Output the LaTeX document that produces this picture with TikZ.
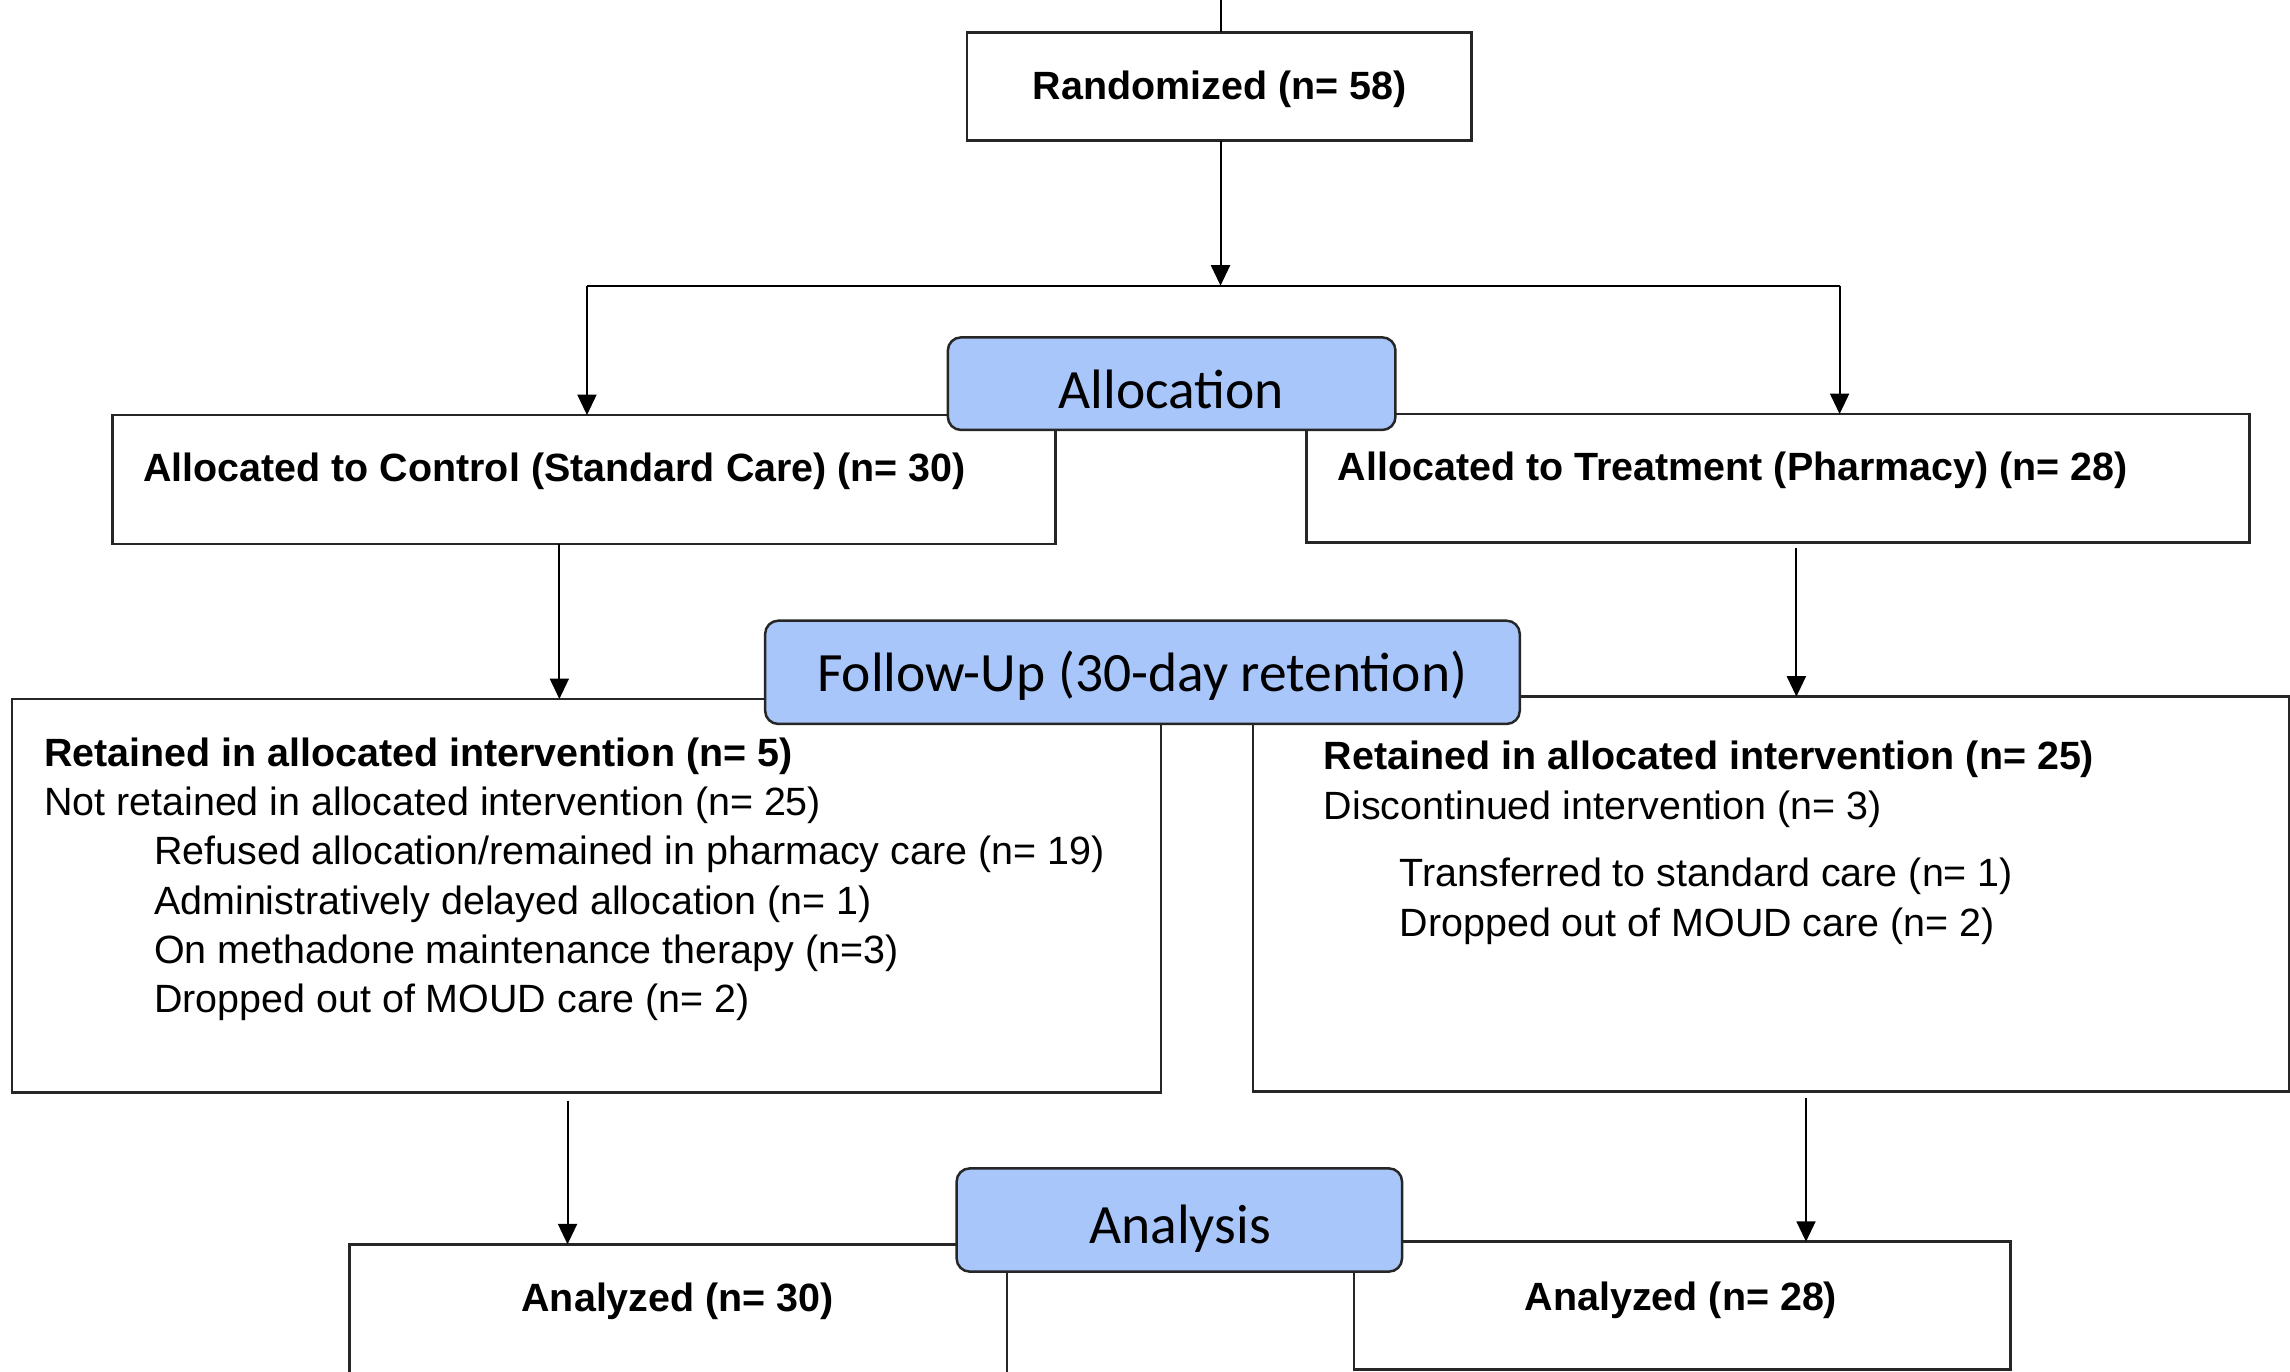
\documentclass[tikz,border=0pt]{standalone}
\usepackage{fontspec}
\setmainfont{Liberation Sans}
\newfontfamily\hdrfont{Carlito}
\usetikzlibrary{arrows.meta}
\definecolor{hdrblue}{RGB}{168,198,250}
\begin{document}
\begin{tikzpicture}[x=1pt,y=-1pt,
  box/.style={draw=black!85, line width=1.7pt, fill=white, anchor=north west, inner sep=0pt, outer sep=0pt},
  hdr/.style={draw=black!85, line width=1.7pt, fill=hdrblue, rounded corners=9pt, anchor=north west, inner sep=0pt, outer sep=0pt},
  conn/.style={line width=1.4pt, draw=black},
  arr/.style={conn, -{Triangle[width=13pt,length=14pt]}},
  txt/.style={inner sep=0pt, anchor=base west, font=\fontsize{27}{32}\selectfont},
  btxt/.style={txt, font=\fontsize{27}{32}\selectfont\bfseries},
  htxt/.style={inner sep=0pt, anchor=base, font=\hdrfont\fontsize{38}{44}\selectfont}]
\useasboundingbox (0,0) rectangle (1568,939);
\clip (0,0) rectangle (1568,939);

% boxes
\node[box, minimum width=345.5pt, minimum height=74.2pt] (rand) at (662,22.1) {};
\node[box, minimum width=645.6pt, minimum height=88.3pt] (ctrl) at (77,284.2) {};
\node[box, minimum width=645.9pt, minimum height=88.1pt] (trt) at (894.5,283.5) {};
\node[box, minimum width=786.8pt, minimum height=269.4pt] (fuL) at (8.2,478.6) {};
\node[box, minimum width=709.5pt, minimum height=270.5pt] (fuR) at (858,477) {};
\node[box, minimum width=450.3pt, minimum height=110pt] (anL) at (239.2,852) {};
\node[box, minimum width=449.6pt, minimum height=87.4pt] (anR) at (927,850.2) {};

% headers
\node[hdr, minimum width=306.5pt, minimum height=63.4pt] (hAlloc) at (649,231) {};
\node[hdr, minimum width=516.7pt, minimum height=70.7pt] (hFU) at (523.9,425) {};
\node[hdr, minimum width=305pt, minimum height=70.7pt] (hAn) at (655,800) {};

% connectors
\coordinate (top) at (835.7,0);
\coordinate (split) at (835.7,195.6);
\coordinate (jl) at (401.9,195.6);
\coordinate (jr) at (1259.6,195.6);
\coordinate (c1) at (383,372.5);
\coordinate (c2) at (1230,375);
\coordinate (c3) at (388.6,753.6);
\coordinate (c4) at (1236.6,752);
\draw[conn] (top) -- (top |- rand.north);
\draw[arr] (split |- rand.south) -- (split);
\draw[conn] (jl) -- (jr);
\draw[arr] (jl) -- (jl |- ctrl.north);
\draw[arr] (jr) -- (jr |- trt.north);
\draw[arr] (c1) -- (c1 |- fuL.north);
\draw[arr] (c2) -- (c2 |- fuR.north);
\draw[arr] (c3) -- (c3 |- anL.north);
\draw[arr] (c4) -- (c4 |- anR.north);

% texts
\node[btxt, anchor=base] (tRand) at (835,68) {Randomized (n= 58)};
\node[htxt] (tAlloc) at (802,279.5) {Allocation};
\node[btxt] (tCtrl) at (97.9,329.8) {Allocated to Control (Standard Care) (n= 30)};
\node[btxt] (tTrt) at (915.9,328.7) {Allocated to Treatment (Pharmacy) (n= 28)};
\node[htxt] (tFU) at (782,473.6) {Follow-Up (30-day retention)};

\node[btxt] (l1) at (30,524.5) {Retained in allocated intervention (n= 5)};
\node[txt] (l2) at (30,558.3) {Not retained in allocated intervention (n= 25)};
\node[txt] (l3) at (105.4,592.1) {Refused allocation/remained in pharmacy care (n= 19)};
\node[txt] (l4) at (105.4,625.9) {Administratively delayed allocation (n= 1)};
\node[txt] (l5) at (105.4,659.7) {On methadone maintenance therapy (n=3)};
\node[txt] (l6) at (105.4,693.5) {Dropped out of MOUD care (n= 2)};

\node[btxt] (r1) at (906.3,527.2) {Retained in allocated intervention (n= 25)};
\node[txt] (r2) at (906.3,561.4) {Discontinued intervention (n= 3)};
\node[txt] (r3) at (958.2,607.1) {Transferred to standard care (n= 1)};
\node[txt] (r4) at (958.2,641.3) {Dropped out of MOUD care (n= 2)};

\node[htxt] (tAn) at (808,851.3) {Analysis};
\node[btxt, anchor=base] (tAnL) at (464,898) {Analyzed (n= 30)};
\node[btxt, anchor=base] (tAnR) at (1151,897) {Analyzed (n= 28)};
\end{tikzpicture}
\end{document}
